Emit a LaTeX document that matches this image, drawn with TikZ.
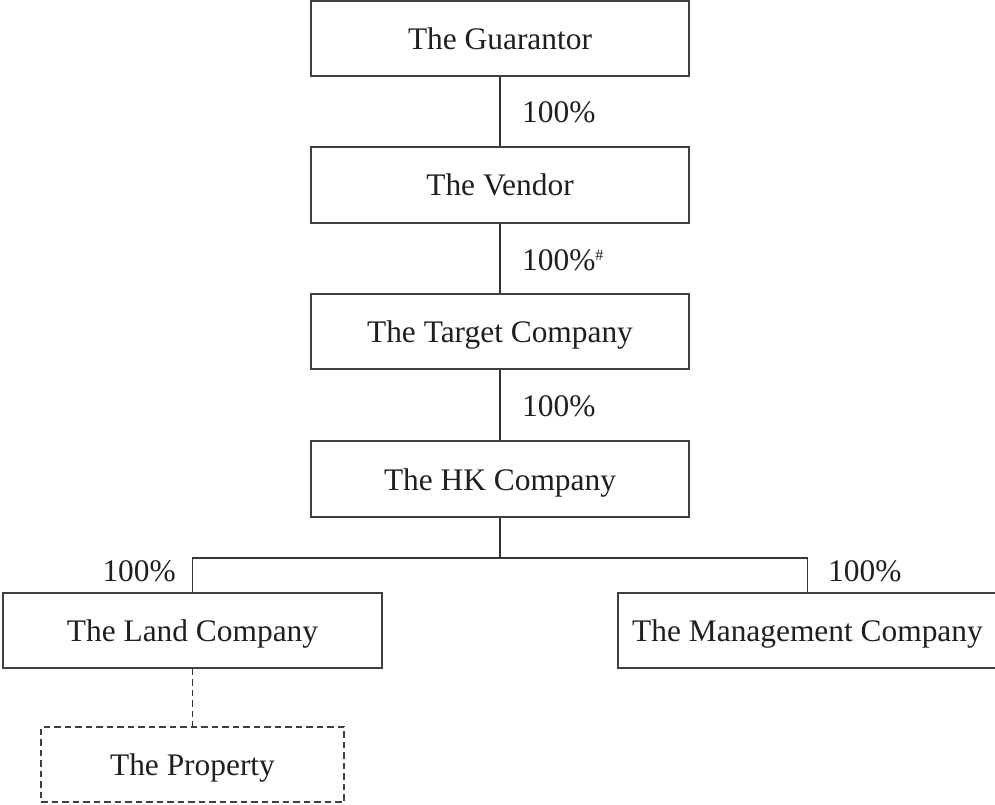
\documentclass[tikz,border=0pt]{standalone}
\usepackage{fontspec}
\setmainfont{Liberation Serif}
\begin{document}
\begin{tikzpicture}[x=1pt,y=-1pt,
  every node/.style={font=\fontsize{31.4}{36}\selectfont, text=black!88},
  orgbox/.style={draw=black!75, line width=1.6pt, minimum width=378pt, minimum height=75pt,
    inner sep=0pt, text height=22pt, text depth=0pt, anchor=center},
  propbox/.style={orgbox, dash pattern=on 6.5pt off 4pt, minimum width=303pt},
  link/.style={draw=black!80, line width=1.6pt},
  dlink/.style={link, dash pattern=on 6.5pt off 4pt},
  pct/.style={inner sep=0pt, text height=22pt, text depth=0pt}]
\useasboundingbox (0,0) rectangle (995,805);

\node[orgbox] (g) at (500,38.5) {The Guarantor};
\node[orgbox, minimum height=76pt] (v) at (500,185) {The Vendor};
\node[orgbox] (t) at (500,331.5) {The Target Company};
\node[orgbox, minimum height=76pt] (hk) at (500,479) {The HK Company};
\node[orgbox, minimum width=379pt] (land) at (192.5,630.5) {The Land Company};
\node[orgbox, minimum width=379pt] (mgmt) at (807.5,630.5) {The Management Company};
\node[propbox] (prop) at (192.5,764.5) {The Property};

\coordinate (j) at (500,558);

\draw[link] (g) -- (v);
\draw[link] (v) -- (t);
\draw[link] (t) -- (hk);
\draw[link] (hk) -- (j);
\draw[link] (j) -| (land.north);
\draw[link] (j) -| (mgmt.north);
\draw[dlink] (land) -- (prop);

\node[pct, anchor=west] (l1) at (522,112) {100\%};
\node[pct, anchor=west] (l2) at (522,259.5) {100\%\raisebox{10pt}{\fontsize{16}{16}\selectfont\#}};
\node[pct, anchor=west] (l3) at (522,405.5) {100\%};
\node[pct, anchor=east] (l4) at (176,570) {100\%};
\node[pct, anchor=west] (l5) at (828,570) {100\%};
\end{tikzpicture}
\end{document}
